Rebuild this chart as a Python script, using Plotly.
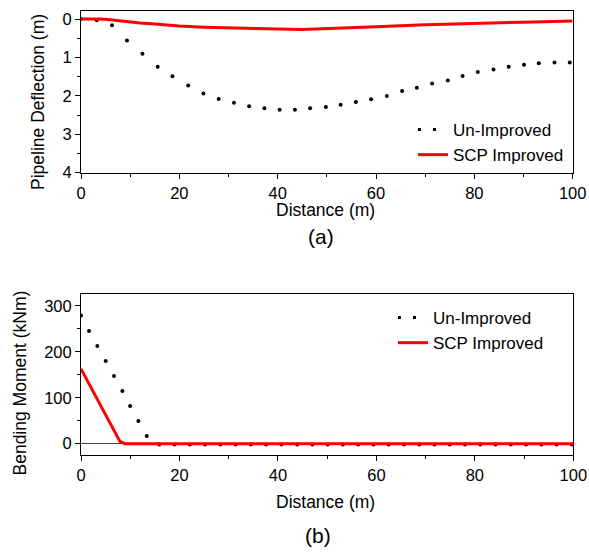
import plotly.graph_objects as go

W, H = 589, 554

# ---- Panel (a): pipeline deflection ----
a_unimp_x = [0, 3.2, 6.3, 9.35, 12.5, 15.6, 18.6, 21.8, 24.9, 28.0, 31.1, 34.2, 37.3, 40.4, 43.5,
             46.6, 49.8, 52.8, 55.9, 59.0, 62.2, 65.3, 68.3, 71.4, 74.6, 77.6, 80.7, 83.9, 87.0,
             90.1, 93.1, 96.3, 99.4]
a_unimp_y = [0, 0.03, 0.16, 0.555, 0.9, 1.24, 1.49, 1.73, 1.94, 2.08, 2.18, 2.27, 2.32, 2.36, 2.36,
             2.32, 2.29, 2.23, 2.16, 2.09, 2.0, 1.875, 1.79, 1.68, 1.6, 1.48, 1.38, 1.31, 1.24,
             1.19, 1.15, 1.13, 1.13]
a_scp_x = [0, 4, 6, 8, 10, 12, 15, 18, 20, 25, 30, 35, 40, 45, 50, 55, 60, 70, 80, 90, 100]
a_scp_y = [0, 0, 0.02, 0.05, 0.08, 0.1, 0.13, 0.16, 0.18, 0.21, 0.23, 0.25, 0.26, 0.27, 0.25,
           0.22, 0.2, 0.15, 0.11, 0.08, 0.05]

# ---- Panel (b): bending moment ----
b_unimp_x = [0, 1.63, 3.32, 5.02, 6.71, 8.4, 9.97, 11.66, 13.35, 15.9, 19.0, 22.1, 25.2, 28.3,
             31.4, 34.5, 37.6, 40.7, 43.9, 47.0, 50.1, 53.2, 56.3, 59.4, 62.5, 65.6, 68.7, 71.8,
             74.9, 78.0, 81.1, 84.2, 87.3, 90.4, 93.5, 96.6, 99.7]
b_unimp_y = [279, 245.5, 213, 180, 147.5, 115, 82, 49.5, 16.8] + [-2] * 28
b_scp_x = [0, 2, 4, 6, 7.9, 8.9, 100]
b_scp_y = [163, 123, 83, 43, 5, 0, 0]

names = ["Un-Improved", "SCP Improved"]
x_ticks = [0, 20, 40, 60, 80, 100]
a_y_ticks = [0, 1, 2, 3, 4]
b_y_ticks = [0, 100, 200, 300]

FONT = "Arial, Liberation Sans, sans-serif"
RED = "#ff0000"


def px(x):
    return x / W


def py(y):
    return 1 - y / H


fig = go.Figure()

# panel a
fig.add_trace(go.Scatter(x=a_unimp_x, y=a_unimp_y, mode="markers",
                         marker=dict(color="black", size=4), showlegend=False,
                         xaxis="x", yaxis="y"))
fig.add_trace(go.Scatter(x=[None], y=[None], mode="lines", name=names[0],
                         line=dict(color="black", width=3, dash="3px,12px"),
                         xaxis="x", yaxis="y", legend="legend"))
fig.add_trace(go.Scatter(x=a_scp_x, y=a_scp_y, mode="lines", name=names[1],
                         line=dict(color=RED, width=3), xaxis="x", yaxis="y",
                         legend="legend"))

# panel b
fig.add_trace(go.Scatter(x=b_unimp_x, y=b_unimp_y, mode="markers",
                         marker=dict(color="black", size=4), showlegend=False,
                         xaxis="x2", yaxis="y2"))
fig.add_trace(go.Scatter(x=[None], y=[None], mode="lines", name=names[0],
                         line=dict(color="black", width=3, dash="3px,12px"),
                         xaxis="x2", yaxis="y2", legend="legend2"))
fig.add_trace(go.Scatter(x=b_scp_x, y=b_scp_y, mode="lines", name=names[1],
                         line=dict(color=RED, width=3), xaxis="x2", yaxis="y2",
                         legend="legend2"))

axis_common = dict(showline=True, linecolor="black", linewidth=1, mirror=True,
                   showgrid=False, ticks="outside", ticklen=5, tickwidth=1,
                   tickcolor="black", automargin=False,
                   tickfont=dict(family=FONT, size=16.5, color="black"))

ann_common = dict(xref="paper", yref="paper", showarrow=False,
                  xanchor="center", yanchor="middle")

fig.update_layout(
    width=W, height=H,
    margin=dict(l=0, r=0, t=0, b=0, pad=0, autoexpand=False),
    paper_bgcolor="white", plot_bgcolor="white",
    font=dict(family=FONT, size=17, color="black"),
    xaxis=dict(domain=[px(81), px(572.7)], anchor="y", range=[0, 100],
               tickvals=x_ticks, zeroline=False,
               minor=dict(dtick=10, ticks="outside", ticklen=3, tickcolor="black"),
               **axis_common),
    yaxis=dict(domain=[py(172.7), py(11)], anchor="x", range=[4, -0.21],
               tickvals=a_y_ticks, zeroline=False,
               minor=dict(dtick=0.5, ticks="outside", ticklen=3, tickcolor="black"),
               **axis_common),
    xaxis2=dict(domain=[px(81), px(573.3)], anchor="y2", range=[0, 100],
                tickvals=x_ticks, zeroline=False,
                minor=dict(dtick=10, ticks="outside", ticklen=3, tickcolor="black"),
                **axis_common),
    yaxis2=dict(domain=[py(455), py(294)], anchor="x2", range=[-24.6, 326],
                tickvals=b_y_ticks, zeroline=True, zerolinecolor="#444", zerolinewidth=1,
                minor=dict(dtick=50, ticks="outside", ticklen=3, tickcolor="black"),
                **axis_common),
    legend=dict(x=px(413), y=py(112), xanchor="left", yanchor="top",
                bgcolor="rgba(0,0,0,0)", font=dict(family=FONT, size=17, color="black"),
                tracegroupgap=0, itemwidth=30),
    legend2=dict(x=px(393), y=py(300), xanchor="left", yanchor="top",
                 bgcolor="rgba(0,0,0,0)", font=dict(family=FONT, size=17, color="black"),
                 tracegroupgap=0, itemwidth=30),
    annotations=[
        dict(text="Pipeline Deflection (m)", x=px(38), y=py(102), textangle=-90,
             font=dict(size=17.5), **ann_common),
        dict(text="Distance (m)", x=px(325), y=py(210), font=dict(size=17.5), **ann_common),
        dict(text="(a)", x=px(321), y=py(237), font=dict(size=21), **ann_common),
        dict(text="Bending Moment (kNm)", x=px(19), y=py(383.5), textangle=-90,
             font=dict(size=17.5), **ann_common),
        dict(text="Distance (m)", x=px(325), y=py(501.5), font=dict(size=17.5), **ann_common),
        dict(text="(b)", x=px(318), y=py(535), font=dict(size=21), **ann_common),
    ],
)

# remove the browser's default 8px page margin so the figure fills the window
fig.write_html("out.html", config={"displayModeBar": False},
               post_script="document.body.style.margin='0px';document.body.style.overflow='hidden';")
